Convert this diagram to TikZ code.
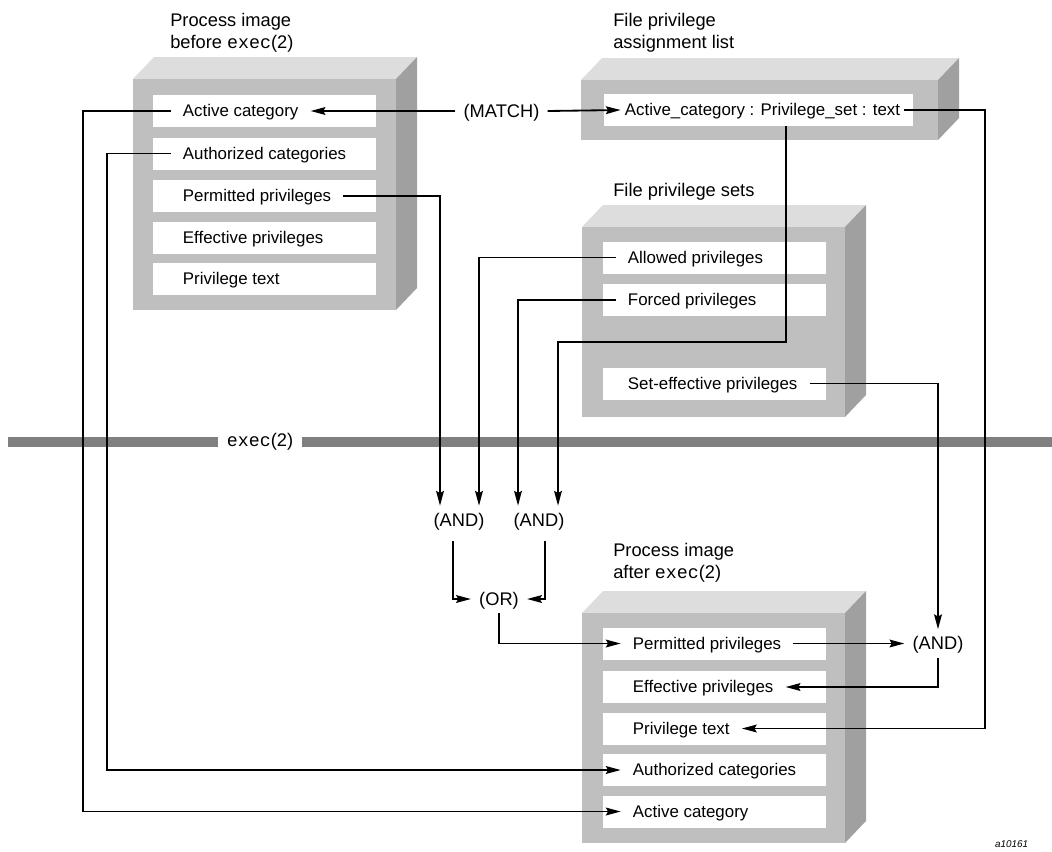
\documentclass[tikz,border=0pt]{standalone}
\usepackage{fontspec}
\setmainfont{Liberation Sans}
\setmonofont{Liberation Mono}
\usetikzlibrary{calc,arrows.meta}
\definecolor{slabfront}{RGB}{191,191,191}
\definecolor{slabtop}{RGB}{221,221,221}
\definecolor{slabside}{RGB}{160,160,160}
\definecolor{rulegray}{RGB}{128,128,128}
\def\slab(#1,#2)(#3,#4){%
	\fill[slabtop] (#1,#2) -- (#1+21,#2-22) -- (#3+21,#2-22) -- (#3,#2) -- cycle;
	\fill[slabside] (#3,#2) -- (#3+21,#2-22) -- (#3+21,#4-22) -- (#3,#4) -- cycle;
	\fill[slabfront] (#1,#2) rectangle (#3,#4);}
\tikzset{
	row/.style={fill=white, inner sep=0pt, minimum height=0.8cm, minimum width=5.575cm},
	entry/.style={anchor=west, inner ysep=0pt, inner xsep=0.3cm, text height=8.6pt, text depth=0.6pt, font=\fontsize{12}{14}\selectfont},
	gate/.style={inner ysep=0pt, inner xsep=0.2cm, minimum height=0.7cm, text height=9.3pt, text depth=0.6pt, font=\fontsize{13}{15}\selectfont},
	heading/.style={anchor=north west, inner sep=0pt, align=left, font=\fontsize{13}{15.6}\selectfont},
	flow/.style={line width=1.3pt, -{Stealth[length=10.5pt,width=5.5pt,inset=1.5pt]}}
}

\begin{document}
\begin{tikzpicture}[x=0.025cm, y=-0.025cm]
		%%%%% START %%%%%
		\useasboundingbox (0,0) rectangle (1052,851);
		
		% the four blocks
		\slab(133,79)(396,310)
		\slab(581,80)(938,140)
		\slab(582,227)(845,417)
		\slab(582,613)(845,843)
		
		\node[heading] (hbefore) at (170,13) {Process image\\before \texttt{exec}(2)};
		\node[heading] (hlist) at (613,13) {File privilege\\assignment list};
		\node[heading] (hsets) at (613,183) {File privilege sets};
		\node[heading] (hafter) at (613,543) {Process image\\after \texttt{exec}(2)};
		
		% before exec
		\foreach \y/\n in {111/1, 153.5/2, 196/3, 238/4, 279/5}
			\node[row] (rb\n) at (264.5,\y) {};
		\node[entry] (bActive) at ($(rb1.west)+(18,0)$) {Active category};
		\node[entry] (bAuth) at ($(rb2.west)+(18,0)$) {Authorized categories};
		\node[entry] (bPerm) at ($(rb3.west)+(18,0)$) {Permitted privileges};
		\node[entry] (bEff) at ($(rb4.west)+(18,0)$) {Effective privileges};
		\node[entry] (bText) at ($(rb5.west)+(18,0)$) {Privilege text};
		
		% assignment list
		\node[row, minimum width=7.725cm] (rl) at (758.5,110) {};
		\node[entry, inner xsep=0.1cm] (lEntry) at ($(rl.west)+(17,0)$) {Active\_category : Privilege\_set : text};
		
		% privilege sets
		\foreach \y/\n in {257.5/1, 300/2, 383.5/3}
			\node[row] (rs\n) at (714.5,\y) {};
		\node[entry] (sAllowed) at ($(rs1.west)+(13,0)$) {Allowed privileges};
		\node[entry] (sForced) at ($(rs2.west)+(13,0)$) {Forced privileges};
		\node[entry] (sSetEff) at ($(rs3.west)+(13,0)$) {Set-effective privileges};
		
		% after exec
		\foreach \y/\n in {643.5/1, 687/2, 728.5/3, 770/4, 811.5/5}
			\node[row] (ra\n) at (714.5,\y) {};
		\node[entry] (aPerm) at ($(ra1.west)+(18,0)$) {Permitted privileges};
		\node[entry] (aEff) at ($(ra2.west)+(18,0)$) {Effective privileges};
		\node[entry] (aText) at ($(ra3.west)+(18,0)$) {Privilege text};
		\node[entry] (aAuth) at ($(ra4.west)+(18,0)$) {Authorized categories};
		\node[entry] (aActive) at ($(ra5.west)+(18,0)$) {Active category};
		
		% the exec line
		\coordinate (ruleL) at (8,442);
		\coordinate (ruleR) at (1052,442);
		\node[inner xsep=0.225cm, font=\fontsize{13}{15}\selectfont] (execlbl) at (260,442) {\texttt{exec}(2)};
		\draw[rulegray, line width=7pt] (ruleL) -- (execlbl.west);
		\draw[rulegray, line width=7pt] (execlbl.east) -- (ruleR);
		
		% gates
		\node[gate] (match) at (501.5,111) {(MATCH)};
		\node[gate] (and1) at (459,520) {(AND)};
		\node[gate] (and2) at (539,520) {(AND)};
		\node[gate] (orgate) at (499,599) {(OR)};
		\node[gate] (and3) at (938,643.5) {(AND)};
		
		\coordinate (railA) at (83,0);
		\coordinate (railB) at (107,0);
		\coordinate (railT) at (985,0);
		\coordinate (pset) at ($(rl.south)+(27.5,0)$);
		\coordinate (psbend) at (0,342);
		
		% connectors
		\draw[flow] (match.west) -- (bActive.east);
		\draw[flow] (match.east) -- (lEntry.west);
		\draw[flow] (bActive.west) -- (railA |- bActive.west) -- (railA |- aActive.west) -- (aActive.west);
		\draw[flow] (bAuth.west) -- (railB |- bAuth.west) -- (railB |- aAuth.west) -- (aAuth.west);
		\draw[flow] (bPerm.east) -| ($(and1.north)+(-19,0)$);
		\draw[flow] (sAllowed.west) -| ($(and1.north)+(20,0)$);
		\draw[flow] (sForced.west) -| ($(and2.north)+(-21,0)$);
		\draw[flow] (pset) -- (pset |- psbend) -| ($(and2.north)+(19,0)$);
		\draw[flow] ($(and1.south)+(-6,7)$) |- (orgate.west);
		\draw[flow] ($(and2.south)+(6,7)$) |- (orgate.east);
		\draw[flow] (orgate.south) |- (aPerm.west);
		\draw[flow] (aPerm.east) -- (and3.west);
		\draw[flow] (sSetEff.east) -| (and3.north);
		\draw[flow] (and3.south) |- (aEff.east);
		\draw[flow] (lEntry.east) -- (railT |- lEntry.east) -- (railT |- aText.east) -- (aText.east);
		
		\node[anchor=base east, font=\fontsize{7}{8}\selectfont\itshape] (figid) at (1033,847) {a10161};
		
		%%%%% END %%%%%
\end{tikzpicture}
\end{document}
